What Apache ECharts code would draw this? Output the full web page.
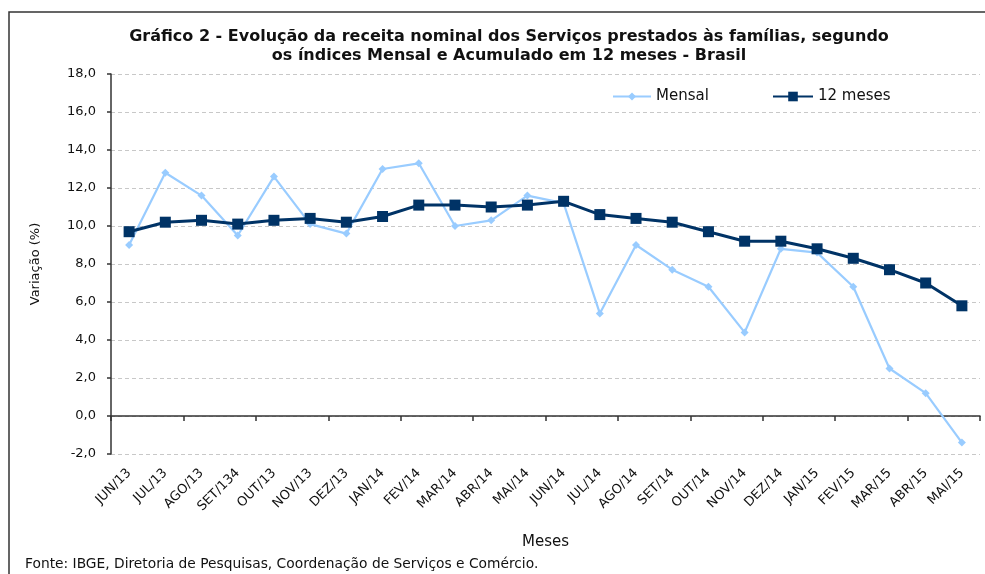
<!DOCTYPE html>
<html>
<head>
<meta charset="utf-8">
<script src="https://cdn.jsdelivr.net/npm/echarts@6/dist/echarts.min.js"></script>
<style>
html,body{margin:0;padding:0;background:#fff;}
#chart{width:985px;height:574px;}
</style>
</head>
<body>
<div id="chart"></div>
<script>
const months = ['JUN/13','JUL/13','AGO/13','SET/134','OUT/13','NOV/13','DEZ/13','JAN/14','FEV/14','MAR/14','ABR/14','MAI/14','JUN/14','JUL/14','AGO/14','SET/14','OUT/14','NOV/14','DEZ/14','JAN/15','FEV/15','MAR/15','ABR/15','MAI/15'];
const mensal = [9.0,12.8,11.6,9.5,12.6,10.1,9.6,13.0,13.3,10.0,10.3,11.6,11.2,5.4,9.0,7.7,6.8,4.4,8.8,8.6,6.8,2.5,1.2,-1.4];
const doze = [9.7,10.2,10.3,10.1,10.3,10.4,10.2,10.5,11.1,11.1,11.0,11.1,11.3,10.6,10.4,10.2,9.7,9.2,9.2,8.8,8.3,7.7,7.0,5.8];
const yMin = -2, yMax = 18, yStep = 2;
const titleLines = ['Gráfico 2 - Evolução da receita nominal dos Serviços prestados às famílias, segundo','os índices Mensal e Acumulado em 12 meses - Brasil'];
const sourceText = 'Fonte: IBGE, Diretoria de Pesquisas, Coordenação de Serviços e Comércio.';

const FONT = '"DejaVu Sans", "Liberation Sans", Arial, sans-serif';
const chart = echarts.init(document.getElementById('chart'));
chart.setOption({
  animation: false,
  backgroundColor: '#fff',
  textStyle: { fontFamily: FONT },
  title: {
    text: titleLines.join('\n'),
    left: 504, top: 22, textAlign: 'center',
    textStyle: { fontFamily: FONT, fontSize: 16, fontWeight: 'bold', color: '#111', lineHeight: 19 }
  },
  graphic: [
    { type: 'rect', shape: { x: 9, y: 12, width: 1000, height: 700 }, style: { fill: 'none', stroke: '#333', lineWidth: 1.5 }, silent: true },
    { type: 'text', left: 25, top: 557, style: { text: sourceText, font: '13.8px ' + FONT, fill: '#111' } }
  ],
  legend: [
    { data: ['Mensal'], left: 607, top: 84, itemWidth: 38, itemHeight: 10, textStyle: { fontSize: 15, color: '#111', fontFamily: FONT }, itemGap: 4 },
    { data: ['12 meses'], left: 767, top: 84, itemWidth: 40, itemHeight: 12, textStyle: { fontSize: 15, color: '#111', fontFamily: FONT }, itemGap: 4 }
  ],
  grid: { left: 111, right: 5, top: 74, bottom: 120, containLabel: false },
  xAxis: [
    {
      type: 'category', data: months, position: 'bottom',
      axisLine: { show: false, onZero: false }, axisTick: { show: false },
      axisLabel: { rotate: 45, interval: 0, margin: 17, fontSize: 13, color: '#111', fontFamily: FONT },
      splitLine: { show: false },
      name: 'Meses', nameLocation: 'middle', nameGap: 81,
      nameTextStyle: { fontSize: 15, color: '#111', fontFamily: FONT }
    },
    {
      type: 'category', data: months, position: 'bottom',
      axisLine: { show: true, onZero: true, lineStyle: { color: '#333', width: 1.5 } },
      axisTick: { show: true, length: 5, lineStyle: { color: '#333', width: 1.5 } },
      axisLabel: { show: false }, splitLine: { show: false }
    }
  ],
  yAxis: {
    type: 'value', min: yMin, max: yMax, interval: yStep,
    axisLine: { show: true, lineStyle: { color: '#333', width: 1.5 } },
    axisTick: { show: true, length: 4, lineStyle: { color: '#333', width: 1.5 } },
    axisLabel: { margin: 15, fontSize: 13, color: '#111', fontFamily: FONT, formatter: v => v.toFixed(1).replace('.', ',') },
    splitLine: { show: true, lineStyle: { color: '#c8c8c8', type: [4, 3], width: 1 } },
    name: 'Variação (%)', nameLocation: 'middle', nameGap: 69, nameRotate: 90,
    nameTextStyle: { fontSize: 13, color: '#111', fontFamily: FONT }
  },
  series: [
    {
      name: 'Mensal', type: 'line', data: mensal, xAxisIndex: 0,
      symbol: 'diamond', symbolSize: 8, showAllSymbol: true,
      lineStyle: { color: '#99CCFF', width: 2.2 },
      itemStyle: { color: '#99CCFF' }, z: 2
    },
    {
      name: '12 meses', type: 'line', data: doze, xAxisIndex: 0,
      symbol: 'rect', symbolSize: 11, showAllSymbol: true,
      lineStyle: { color: '#003366', width: 3 },
      itemStyle: { color: '#003366' }, z: 3
    }
  ]
});
</script>
</body>
</html>
